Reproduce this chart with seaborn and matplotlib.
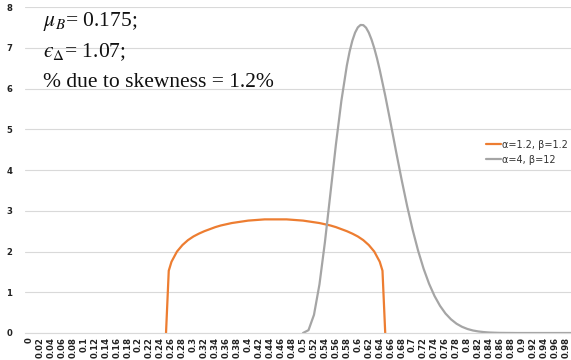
import matplotlib
matplotlib.use("Agg")
import matplotlib.pyplot as plt
import seaborn as sns
import pandas as pd

# Series 1: alpha=1.2, beta=1.2 (support 0.25..0.65)
orange_x = [0.25, 0.255, 0.26, 0.27, 0.28, 0.29, 0.30, 0.31, 0.32, 0.33, 0.34,
            0.35, 0.36, 0.37, 0.38, 0.39, 0.40, 0.41, 0.42, 0.43, 0.44, 0.45,
            0.46, 0.47, 0.48, 0.49, 0.50, 0.51, 0.52, 0.53, 0.54, 0.55, 0.56,
            0.57, 0.58, 0.59, 0.60, 0.61, 0.62, 0.63, 0.64, 0.645, 0.65]
orange_y = [0.0, 1.53, 1.75, 2.00, 2.16, 2.28, 2.37, 2.44, 2.50, 2.55, 2.60,
            2.64, 2.67, 2.70, 2.72, 2.74, 2.76, 2.77, 2.78, 2.79, 2.79, 2.79,
            2.79, 2.79, 2.78, 2.77, 2.76, 2.74, 2.72, 2.70, 2.67, 2.64, 2.60,
            2.55, 2.50, 2.44, 2.37, 2.28, 2.16, 2.00, 1.75, 1.53, 0.0]

# Series 2: alpha=4, beta=12 (support 0.5..1.0)
gray_x = [0.50, 0.51, 0.52, 0.53, 0.54, 0.55, 0.56, 0.57, 0.58, 0.585, 0.59,
          0.595, 0.60, 0.605, 0.61, 0.615, 0.62, 0.625, 0.63, 0.635, 0.64,
          0.65, 0.66, 0.67, 0.68, 0.69,
          0.70, 0.71, 0.72, 0.73, 0.74, 0.75, 0.76, 0.77, 0.78, 0.79,
          0.80, 0.81, 0.82, 0.83, 0.84, 0.85, 0.86, 0.87, 0.88, 0.89,
          0.90, 0.91, 0.92, 0.93, 0.94, 0.95, 0.96, 0.97, 0.98, 0.99, 1.00]
gray_y = [0.0, 0.070, 0.446, 1.194, 2.234, 3.427, 4.625, 5.702, 6.571, 6.910, 7.177,
          7.375, 7.504, 7.564, 7.560, 7.497, 7.376, 7.206, 6.994, 6.743, 6.460,
          5.830, 5.146, 4.442, 3.759, 3.117,
          2.536, 2.021, 1.580, 1.210, 0.908, 0.667, 0.478, 0.336, 0.229, 0.153,
          0.099, 0.062, 0.038, 0.022, 0.012, 0.007, 0.003, 0.002, 0.001, 0.0,
          0.0, 0.0, 0.0, 0.0, 0.0, 0.0, 0.0, 0.0, 0.0, 0.0, 0.0]

series_names = ["α=1.2, β=1.2", "α=4, β=12"]
series_colors = ["#ED7D31", "#A5A5A5"]

x_ticks = [round(i * 0.02, 2) for i in range(50)]
x_tick_labels = [("%g" % v) for v in x_ticks]
y_ticks = [0, 1, 2, 3, 4, 5, 6, 7, 8]

annot_lines = [r"$\mu_B$= 0.175;", "$\u03f5_{\\Delta}$= 1.07;", "% due to skewness = 1.2%"]

df = pd.concat([
    pd.DataFrame({"x": orange_x, "y": orange_y, "series": series_names[0]}),
    pd.DataFrame({"x": gray_x, "y": gray_y, "series": series_names[1]}),
], ignore_index=True)

sns.set_theme(style="white")
plt.rcParams["font.family"] = ["DejaVu Sans"]
plt.rcParams["mathtext.fontset"] = "stix"

fig = plt.figure(figsize=(5.71, 3.60), dpi=100)
ax = fig.add_axes([0.0438, 0.075, 0.9562, 0.905])

sns.lineplot(data=df, x="x", y="y", hue="series", palette=series_colors,
             sort=False, estimator=None, linewidth=1.6, ax=ax, legend=True)

ax.set_xlim(-0.0073, 0.989)
ax.set_ylim(0, 8)
ax.set_xticks(x_ticks)
ax.set_xticklabels(x_tick_labels, rotation=90, fontsize=6.1, fontweight="bold", color="#222222")
ax.set_yticks(y_ticks)
ax.set_yticklabels([str(v) for v in y_ticks], fontsize=6.1, fontweight="bold", color="#222222")
ax.tick_params(axis="both", length=0, pad=3)
ax.tick_params(axis="y", pad=9)
ax.set_xlabel("")
ax.set_ylabel("")
ax.grid(axis="y", color="#D9D9D9", linewidth=0.8)
ax.set_axisbelow(True)
for s in ["top", "right", "left"]:
    ax.spines[s].set_visible(False)
ax.spines["bottom"].set_color("#D9D9D9")
ax.spines["bottom"].set_linewidth(0.8)

leg = ax.legend(loc="upper left", bbox_to_anchor=(0.838, 0.605), frameon=False,
                fontsize=7.0, handlelength=1.45, handletextpad=0.1,
                labelspacing=0.5, borderaxespad=0)
for line in leg.get_lines():
    line.set_linewidth(1.6)
for t in leg.get_texts():
    t.set_color("#333333")

for i, txt in enumerate(annot_lines):
    fig.text(0.075, 0.94 - i * 0.085, txt, fontsize=15.5, family="Liberation Serif",
             va="center", ha="left", color="#111111")

fig.savefig("out.png", dpi=100)
